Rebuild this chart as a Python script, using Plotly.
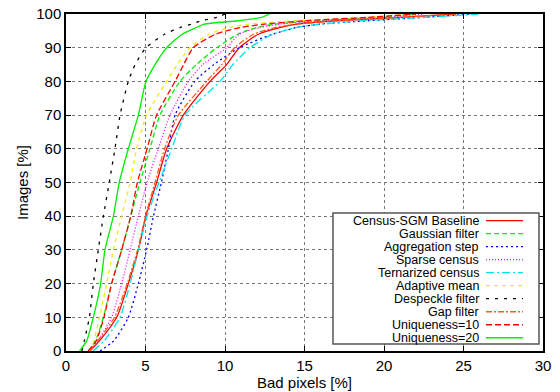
import plotly.graph_objects as go

# Cumulative percentage levels (y) and the bad-pixel value (x) at which each curve reaches them
levels = [0, 3, 10, 20, 30, 40, 50, 60, 70, 80, 85, 90, 94, 96, 97, 98, 99, 100]

baseline    = [1.5, 2.1, 3.19, 3.92, 4.55, 5.03, 5.7, 6.33, 7.38, 9.06, 10.1, 10.9, 12.1, 13.5, 14.5, 17.0, 21.0, 24.5]
gaussian    = [1.4, 1.85, 2.35, 2.87, 3.5, 4.07, 4.65, 5.28, 5.91, 7.17, 8.2, 9.48, 10.8, 12.0, 13.2, 15.5, 19.5, 22.0]
aggregation = [2.14, 3.0, 3.92, 4.55, 5.07, 5.5, 6.0, 6.44, 6.86, 8.1, 9.3, 10.9, 13.0, 14.5, 16.0, 19.0, 22.5, 25.5]
sparse      = [1.5, 2.0, 2.87, 3.5, 4.03, 4.55, 5.1, 5.8, 6.54, 7.7, 8.6, 10.1, 10.9, 12.2, 13.5, 16.0, 20.0, 22.5]
ternarized  = [1.7, 2.4, 3.4, 4.03, 4.55, 5.1, 5.85, 6.65, 7.48, 9.69, 10.5, 11.57, 13.0, 14.5, 16.0, 18.5, 22.5, 26.0]
adaptive    = [1.5, 1.75, 2.1, 2.56, 2.98, 3.5, 4.03, 4.44, 5.07, 6.33, 7.0, 7.8, 9.0, 10.3, 11.5, 14.5, 19.0, 21.5]
despeckle   = [1.0, 1.15, 1.47, 1.72, 2.03, 2.35, 2.72, 3.08, 3.4, 3.92, 4.35, 5.03, 6.2, 7.2, 7.9, 8.5, 9.5, 10.0]
gap         = [1.5, 2.0, 3.05, 3.85, 4.5, 5.0, 5.6, 6.2, 7.07, 8.85, 9.8, 10.6, 11.8, 13.2, 14.5, 17.0, 21.0, 24.6]
uniq10      = [1.4, 1.9, 2.39, 2.87, 3.5, 4.07, 4.49, 5.1, 5.7, 6.86, 7.4, 8.0, 9.4, 11.0, 12.5, 15.0, 19.0, 22.0]
uniq20      = [0.85, 1.3, 1.72, 2.18, 2.45, 2.98, 3.35, 3.92, 4.55, 5.03, 5.6, 6.33, 7.3, 8.2, 8.7, 10.8, 12.3, 12.8]

names = ["Census-SGM Baseline", "Gaussian filter", "Aggregation step", "Sparse census",
         "Ternarized census", "Adaptive mean", "Despeckle filter", "Gap filter",
         "Uniqueness=10", "Uniqueness=20"]
series = [baseline, gaussian, aggregation, sparse, ternarized, adaptive, despeckle, gap, uniq10, uniq20]
colors = ["#ff0000", "#00ee00", "#0000ff", "#ff00ff", "#00e5ee", "#eeee00", "#000000", "#ff5a1e",
          "#ff0000", "#00ee00"]
dashes = ["solid", "5px,3px", "2px,3px", "1px,2px", "8px,3px,2px,3px", "4px,4px", "3px,6px",
          "6px,2px,2px,2px", "6px,3px", "solid"]

x_ticks = [0, 5, 10, 15, 20, 25, 30]
y_ticks = [0, 10, 20, 30, 40, 50, 60, 70, 80, 90, 100]

fig = go.Figure()
for name, xs, c, d in zip(names, series, colors, dashes):
    fig.add_trace(go.Scatter(x=xs, y=levels, mode="lines", name=name, line_shape="spline",
                             line=dict(color=c, width=1.3, dash=d, smoothing=0.6), showlegend=False))

# Manual gnuplot-style legend (text right-aligned, sample line on the right)
shapes = [dict(type="rect", xref="paper", yref="paper", x0=0.5597, x1=0.9916, y0=0.0208, y1=0.4095,
               line=dict(color="#555555", width=1.5), fillcolor="white", layer="above")]
annotations = []
for i, (name, c, d) in enumerate(zip(names, colors, dashes)):
    yc = 0.3866 - 0.03858 * i
    annotations.append(dict(xref="paper", yref="paper", x=0.8679, y=yc, text=name, showarrow=False,
                            xanchor="right", yanchor="middle", borderpad=0,
                            font=dict(family="Liberation Sans, Arial, sans-serif", size=12.5, color="black")))
    shapes.append(dict(type="line", xref="paper", yref="paper", x0=0.8805, x1=0.958, y0=yc, y1=yc,
                       line=dict(color=c, width=1.3, dash=d), layer="above"))

axis_common = dict(showline=True, linecolor="black", linewidth=1.5, mirror="allticks",
                   ticks="inside", ticklen=5, tickcolor="black", automargin=False,
                   showgrid=True, gridcolor="#777777", griddash="dot", gridwidth=1,
                   zeroline=False, tickfont=dict(size=15, color="black"))

fig.update_layout(
    width=560, height=392,
    margin=dict(l=66, r=17, t=14, b=41),
    paper_bgcolor="white", plot_bgcolor="white",
    font=dict(family="Liberation Sans, Arial, sans-serif", size=15, color="black"),
    xaxis=dict(range=[0, 30], tickvals=x_ticks, ticktext=[str(v) for v in x_ticks],
               title=dict(text="Bad pixels [%]", standoff=0, font=dict(size=15)), **axis_common),
    yaxis=dict(range=[0, 100], tickvals=y_ticks, ticktext=[str(v) for v in y_ticks],
               title=dict(text="Images [%]", standoff=4, font=dict(size=15)), **axis_common),
    shapes=shapes, annotations=annotations,
)

fig.write_html("out.html")
